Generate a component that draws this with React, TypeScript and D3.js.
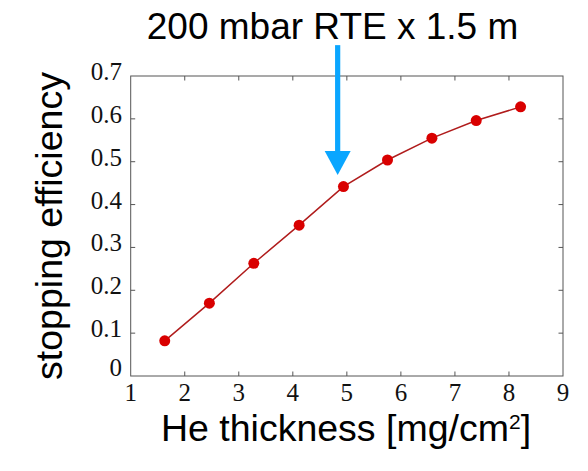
import React from "react";
import * as d3 from "d3";

const thickness = [1.63, 2.456, 3.278, 4.117, 4.937, 5.752, 6.574, 7.394, 8.215];
const efficiency = [0.082, 0.17, 0.263, 0.352, 0.442, 0.504, 0.555, 0.596, 0.628];
const xTicks = [1, 2, 3, 4, 5, 6, 7, 8, 9];
const yTicks = [0, 0.1, 0.2, 0.3, 0.4, 0.5, 0.6, 0.7];
const yTickLabels = ["0", "0.1", "0.2", "0.3", "0.4", "0.5", "0.6", "0.7"];
const titleText = "200 mbar RTE x 1.5 m";
const xLabel = "He thickness [mg/cm";
const yLabel = "stopping efficiency";
const arrowX = 4.83;
const arrowTopY = 0.772;
const arrowTipY = 0.469;

const W = 588;
const H = 471;
const left = 130.7;
const right = 563;
const top = 76;
const bottom = 376;

export default function App() {
  const x = d3.scaleLinear().domain([1, 9]).range([left, right]);
  const y = d3.scaleLinear().domain([0, 0.7]).range([bottom, top]);
  const pts = thickness.map((t, i) => [t, efficiency[i]] as [number, number]);
  const line = d3
    .line<[number, number]>()
    .x((d) => x(d[0]))
    .y((d) => y(d[1]));

  const ax = x(arrowX);
  const aTop = y(arrowTopY);
  const aTip = y(arrowTipY);
  const headLen = 24;
  const headHalf = 13;
  const shaftHalf = 2.6;

  const sans = "'Liberation Sans', Arial, Helvetica, sans-serif";
  const serif = "'Liberation Serif', 'Times New Roman', Times, serif";
  const frame = "#555";
  const tickLen = 4.5;
  const tickFont = 25;

  return (
    <svg
      width={W}
      height={H}
      style={{ position: "absolute", left: 0, top: 0, background: "#fff" }}
    >
      <rect x={0} y={0} width={W} height={H} fill="#fff" />
      <rect
        x={left}
        y={top}
        width={right - left}
        height={bottom - top}
        fill="none"
        stroke={frame}
        strokeWidth={1}
      />
      {xTicks.map((t) => (
        <g key={"xt" + t}>
          {t > 1 && t < 9 && (
            <>
              <line x1={x(t)} x2={x(t)} y1={bottom} y2={bottom - tickLen} stroke={frame} />
              <line x1={x(t)} x2={x(t)} y1={top} y2={top + tickLen} stroke={frame} />
            </>
          )}
          <text
            x={x(t)}
            y={401}
            textAnchor="middle"
            fontFamily={serif}
            fontSize={tickFont}
            fill="#111"
          >
            {t}
          </text>
        </g>
      ))}
      {yTicks.map((t, i) => (
        <g key={"yt" + t}>
          {t > 0 && t < 0.7 && (
            <>
              <line x1={left} x2={left + tickLen} y1={y(t)} y2={y(t)} stroke={frame} />
              <line x1={right} x2={right - tickLen} y1={y(t)} y2={y(t)} stroke={frame} />
            </>
          )}
          <text
            x={122}
            y={y(t) + (t === 0 ? 0 : 4)}
            textAnchor="end"
            fontFamily={serif}
            fontSize={tickFont}
            fill="#111"
          >
            {yTickLabels[i]}
          </text>
        </g>
      ))}
      <path d={line(pts) || ""} fill="none" stroke="#b01c1c" strokeWidth={1.5} />
      {pts.map((p, i) => (
        <circle key={"p" + i} cx={x(p[0])} cy={y(p[1])} r={5.5} fill="#d90000" />
      ))}
      <rect
        x={ax - shaftHalf}
        y={aTop}
        width={shaftHalf * 2}
        height={aTip - headLen - aTop + 1}
        fill="#0aa6ff"
      />
      <path
        d={`M${ax - headHalf},${aTip - headLen} L${ax + headHalf},${aTip - headLen} L${ax},${aTip} Z`}
        fill="#0aa6ff"
      />
      <text
        x={332.5}
        y={39}
        textAnchor="middle"
        fontFamily={sans}
        fontSize={37}
        fill="#000"
      >
        {titleText}
      </text>
      <text
        x={346}
        y={441}
        textAnchor="middle"
        fontFamily={sans}
        fontSize={37.5}
        fill="#000"
      >
        {xLabel}
        <tspan fontSize={21} dy={-12}>
          2
        </tspan>
        <tspan dy={12}>]</tspan>
      </text>
      <text
        transform={`translate(62,${(top + bottom) / 2}) rotate(-90)`}
        textAnchor="middle"
        fontFamily={sans}
        fontSize={37.5}
        fill="#000"
      >
        {yLabel}
      </text>
    </svg>
  );
}
